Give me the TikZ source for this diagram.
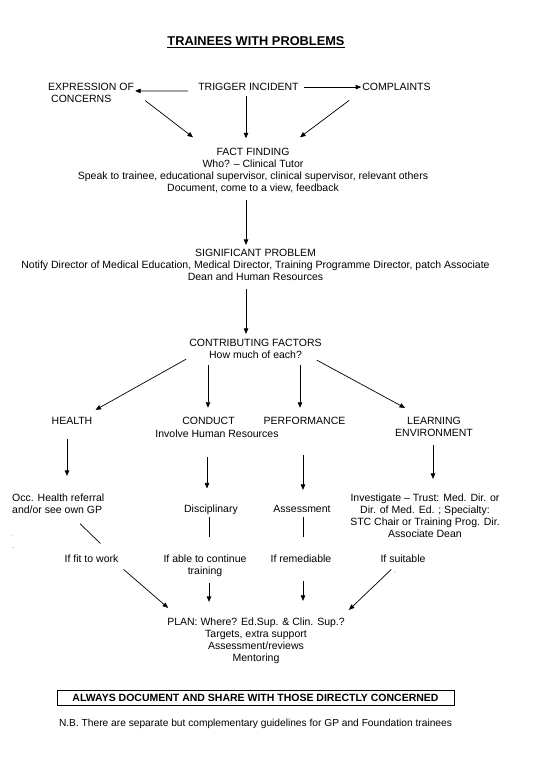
\documentclass[tikz,border=0pt]{standalone}
\usepackage{fontspec}
\setmainfont{Liberation Sans}
\usetikzlibrary{arrows.meta,calc}
\begin{document}
\begin{tikzpicture}[x=1pt,y=-1pt,
  txt/.style={font=\fontsize{10.5}{12}\selectfont, inner sep=0pt, align=center},
  arr/.style={line width=0.7pt, -{Triangle[length=5.5pt,width=4.5pt]}},
  ln/.style={line width=0.7pt},
  stray/.style={inner sep=0pt, text=black!45, font=\fontsize{6}{6}\selectfont}]
\fill[white] (0,0) rectangle (535,761);
\useasboundingbox (0,0) rectangle (535,761);
\node[inner sep=0pt, anchor=base, font=\fontsize{12.8}{14}\selectfont\bfseries] (title) at (256,45.7) {\underline{TRAINEES WITH PROBLEMS}};
\node[txt, anchor=north west, align=left] (expr) at (48,83.3) {EXPRESSION OF\\\hspace*{3pt}CONCERNS};
\node[txt, anchor=base] (trigger) at (248.5,90.7) {TRIGGER INCIDENT};
\node[txt, anchor=base] (compl) at (396.5,90.7) {COMPLAINTS};
\node[txt, anchor=north] (fact) at (253,148.3) {FACT FINDING\\Who? – Clinical Tutor\\Speak to trainee, educational supervisor, clinical supervisor, relevant others\\Document, come to a view, feedback};
\node[txt, anchor=north] (sig) at (255.5,249.3) {SIGNIFICANT PROBLEM\\Notify Director of Medical Education, Medical Director, Training Programme Director, patch Associate\\Dean and Human Resources};
\node[txt, anchor=north] (contrib) at (255.5,338.9) {CONTRIBUTING FACTORS\\How much of each?};
\node[txt, anchor=base] (health) at (72,424.7) {HEALTH};
\node[txt, anchor=base] (conduct) at (208.5,424.7) {CONDUCT};
\node[txt, anchor=base] (hr) at (217,437.7) {Involve Human Resources};
\node[txt, anchor=base] (perf) at (304.5,424.7) {PERFORMANCE};
\node[txt, anchor=north] (learn) at (434,417.3) {LEARNING\\ENVIRONMENT};
\node[txt, anchor=north west, align=left] (occ) at (12,493.3) {Occ. Health referral\\and/or see own GP};
\node[txt, anchor=base] (disc) at (211,512.7) {Disciplinary};
\node[txt, anchor=base] (assess) at (302,512.7) {Assessment};
\node[txt, anchor=north] (invest) at (425,493.3) {Investigate – Trust: Med. Dir. or\\Dir. of Med. Ed. ; Specialty:\\STC Chair or Training Prog. Dir.\\Associate Dean};
\node[txt, anchor=base] (iffit) at (91.5,562.7) {If fit to work};
\node[txt, anchor=north] (ifable) at (205,554.3) {If able to continue\\training};
\node[txt, anchor=base] (ifrem) at (301,562.7) {If remediable};
\node[txt, anchor=base] (ifsuit) at (403,562.7) {If suitable};
\node[txt, anchor=north] (plan) at (256,617.3) {PLAN: Where? Ed.Sup. \& Clin. Sup.?\\Targets, extra support\\Assessment/reviews\\Mentoring};
\node[draw, line width=0.8pt, minimum width=397pt, minimum height=15pt, inner sep=0pt, font=\fontsize{10.5}{12}\selectfont\bfseries] (always) at (255.5,697.5) {ALWAYS DOCUMENT AND SHARE WITH THOSE DIRECTLY CONCERNED};
\node[txt, anchor=base, font=\fontsize{10.2}{12}\selectfont] (nb) at (255.5,726.6) {N.B. There are separate but complementary guidelines for GP and Foundation trainees};
\node[stray] (m1) at (13,536) {.};
\node[stray] (m2) at (13,549) {-};
\node[stray] (m3) at (395,573) {,};
% connectors
\draw[arr] ($(trigger.west)+(-10,4)$) -- ($(expr.north east)+(1,7.6)$);
\draw[arr] ($(trigger.east)+(5,0)$) -- ($(compl.west)+(-1,0)$);
\draw[arr] ($(expr.south east)+(11,-2.6)$) -- ($(fact.north)+(-60,-11)$);
\draw[arr] ($(trigger.south)+(-2.5,5)$) -- ($(trigger.south |- fact.north)+(-2.5,-10)$);
\draw[arr] ($(compl.south west)+(-13,9.4)$) -- ($(fact.north)+(47,-11)$);
\draw[arr] ($(fact.south)+(-7,6.3)$) -- ($(fact.south |- sig.north)+(-7,-4.4)$);
\draw[arr] ($(sig.south)+(-9.5,7.4)$) -- ($(sig.south |- contrib.north)+(-9.5,-5)$);
\draw[arr] ($(contrib.south west)+(-3,0.4)$) -- ($(health.north east)+(3,-7.4)$);
\draw[arr] ($(conduct.north |- contrib.south)+(-0.5,6.4)$) -- ($(conduct.north)+(-0.5,-9.4)$);
\draw[arr] ($(perf.north |- contrib.south)+(-4.5,6.4)$) -- ($(perf.north)+(-4.5,-9.4)$);
\draw[arr] ($(contrib.south east)+(-5,1.4)$) -- ($(learn.north west)+(10,-9.4)$);
\draw[arr] ($(health.south)+(-5,14.4)$) -- ($(health.south |- occ.north)+(-5,-17.4)$);
\draw[arr] ($(conduct.south |- hr.south)+(-1.5,19.4)$) -- ($(conduct.south |- disc.north)+(-1.5,-16.4)$);
\draw[arr] ($(perf.south)+(-1.5,30.4)$) -- ($(perf.south |- assess.north)+(-1.5,-15.4)$);
\draw[arr] ($(learn.south)+(-1,7.4)$) -- ($(learn.south |- invest.north)+(-1,-14.4)$);
\draw[ln] ($(occ.south west)+(68,10.3)$) -- ($(iffit.north west)+(36,-11.4)$);
\draw[ln] ($(disc.south)+(-2,2.3)$) -- ($(disc.south)+(-2,22.3)$);
\draw[ln] ($(assess.south)+(1,4.4)$) -- ($(assess.south)+(1,24.4)$);
\draw[arr] ($(iffit.south east)+(5,6.4)$) -- ($(plan.north west)+(1,-9.4)$);
\draw[arr] ($(ifable.south)+(4,6.6)$) -- ($(ifable.south |- plan.north)+(4,-15.4)$);
\draw[arr] ($(ifrem.south)+(2,18.4)$) -- ($(ifrem.south |- plan.north)+(2,-16.4)$);
\draw[arr] ($(ifsuit.south west)+(11,6.4)$) -- ($(plan.north east)+(4,-7.4)$);
\end{tikzpicture}
\end{document}
